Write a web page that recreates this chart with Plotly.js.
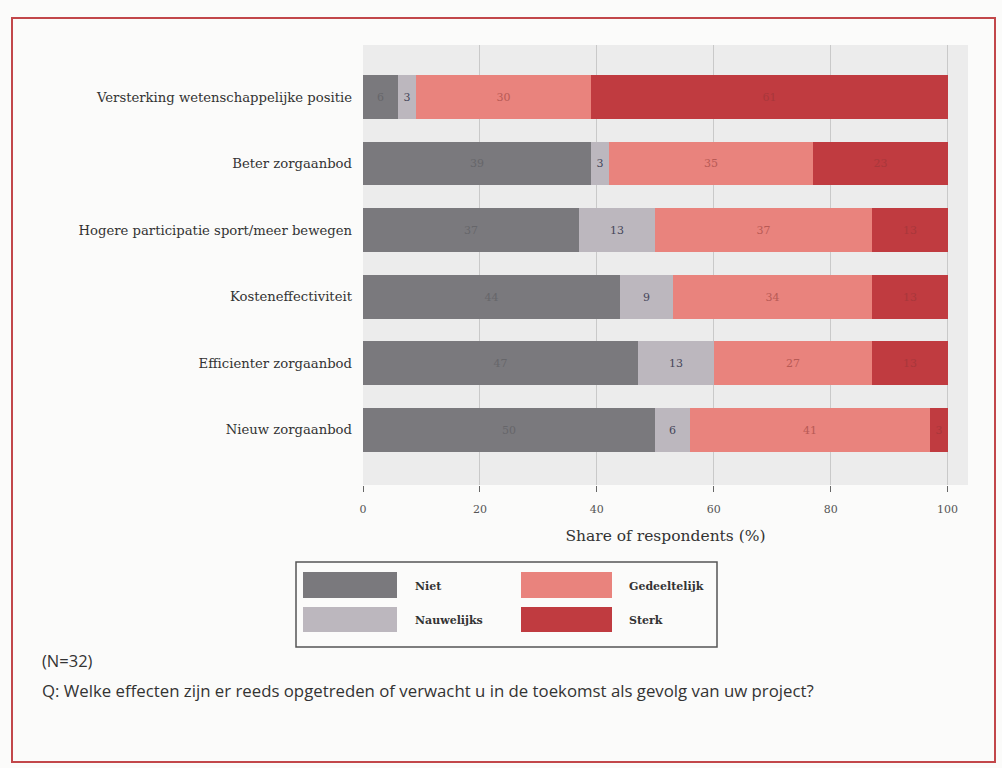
<!DOCTYPE html>
<html>
<head>
<meta charset="utf-8">
<script src="https://cdn.plot.ly/plotly-3.0.1.min.js"></script>
<style>
  html, body { margin: 0; padding: 0; background: #fbfbfa; }
  #chart { width: 1002px; height: 768px; }
</style>
</head>
<body>
<div id="chart"></div>
<script>
// ---- data ----
const categories = [
  "Versterking wetenschappelijke positie",
  "Beter zorgaanbod",
  "Hogere participatie sport/meer bewegen",
  "Kosteneffectiviteit",
  "Efficienter zorgaanbod",
  "Nieuw zorgaanbod"
];
const niet         = [6, 39, 37, 44, 47, 50];
const nauwelijks   = [3, 3, 13, 9, 13, 6];
const gedeeltelijk = [30, 35, 37, 34, 27, 41];
const sterk        = [61, 23, 13, 13, 13, 3];
const seriesNames  = ["Niet", "Nauwelijks", "Gedeeltelijk", "Sterk"];
const xTickVals    = [0, 20, 40, 60, 80, 100];
const xTickText    = ["0", "20", "40", "60", "80", "100"];

// ---- styles ----
const colors    = ["#7a797d", "#bcb7be", "#e9837d", "#c03b40"];
const textCols  = ["#66666a", "#46465a", "#b85a55", "#a8373b"];
const serif = "DejaVu Serif, Liberation Serif, serif";
const sans = "Open Sans, Lato, sans-serif";

const seriesValues = [niet, nauwelijks, gedeeltelijk, sterk];
const traces = seriesValues.map((vals, i) => ({
  type: "bar",
  orientation: "h",
  name: seriesNames[i],
  y: categories,
  x: vals,
  text: vals.map(String),
  textposition: "inside",
  insidetextanchor: "middle",
  constraintext: "none",
  textfont: { family: serif, size: 11, color: textCols[i] },
  marker: { color: colors[i], line: { width: 0 } },
  width: 0.66,
  showlegend: false,
  hoverinfo: "x+name"
}));

// plot area in pixels
const L = 363, R = 968, T = 45, B = 485;
const W = R - L, H = B - T;
const px = x => (x - L) / W;
const py = y => (B - y) / H;

const shapes = [
  // outer red frame
  { type: "rect", xref: "paper", yref: "paper", x0: px(12), x1: px(995), y0: py(18), y1: py(762),
    line: { color: "#c2474a", width: 2 }, fillcolor: "rgba(0,0,0,0)", layer: "below" },
  // legend box
  { type: "rect", xref: "paper", yref: "paper", x0: px(296), x1: px(717), y0: py(562), y1: py(647),
    line: { color: "#555555", width: 1.5 }, fillcolor: "rgba(0,0,0,0)" }
];
const annotations = [];
// custom legend: 2 columns x 2 rows
const legCols = [{ sx0: 303, sx1: 397, tx: 413 }, { sx0: 521, sx1: 612, tx: 627 }];
const legRows = [{ y0: 572, y1: 598 }, { y0: 607, y1: 632 }];
const legOrder = [[0, 0], [0, 1], [1, 0], [1, 1]]; // [col,row] for Niet, Nauwelijks, Gedeeltelijk, Sterk
seriesNames.forEach((nm, i) => {
  const c = legCols[legOrder[i][0]], r = legRows[legOrder[i][1]];
  shapes.push({ type: "rect", xref: "paper", yref: "paper",
    x0: px(c.sx0), x1: px(c.sx1), y0: py(r.y0), y1: py(r.y1),
    line: { width: 0 }, fillcolor: colors[i] });
  annotations.push({ xref: "paper", yref: "paper", x: px(c.tx), y: py((r.y0 + r.y1) / 2 + 1),
    xanchor: "left", yanchor: "middle", showarrow: false, text: nm,
    font: { family: serif, size: 11, color: "#333", weight: 600 } });
});
annotations.push({ xref: "paper", yref: "paper", x: px(40), y: py(660), xanchor: "left", yanchor: "middle",
  showarrow: false, text: "(N=32)", font: { family: sans, size: 16.5, color: "#333" } });
annotations.push({ xref: "paper", yref: "paper", x: px(40), y: py(690), xanchor: "left", yanchor: "middle",
  showarrow: false, text: "Q: Welke effecten zijn er reeds opgetreden of verwacht u in de toekomst als gevolg van uw project?",
  font: { family: sans, size: 16.8, color: "#333" } });

const layout = {
  width: 1002, height: 768,
  margin: { l: L, r: 1002 - R, t: T, b: 768 - B, pad: 0 },
  paper_bgcolor: "#fbfbfa",
  plot_bgcolor: "#ececec",
  barmode: "stack",
  bargap: 0,
  xaxis: {
    range: [0, 103.5],
    tickvals: xTickVals, ticktext: xTickText,
    showgrid: true, gridcolor: "#c9c9c9", gridwidth: 1,
    zeroline: false, showline: false,
    ticks: "outside", ticklen: 6, tickcolor: "#666", tickwidth: 1,
    ticklabelstandoff: 8,
    tickfont: { family: serif, size: 11, color: "#555" },
    title: { text: "Share of respondents (%)", standoff: 14,
      font: { family: serif, size: 15.5, color: "#333" } }
  },
  yaxis: {
    type: "category",
    range: [5.83, -0.78],
    showgrid: false, zeroline: false, showline: false,
    ticks: "", ticklabelstandoff: 10,
    tickfont: { family: serif, size: 13.2, color: "#333" }
  },
  shapes: shapes,
  annotations: annotations
};

Plotly.newPlot("chart", traces, layout, { displayModeBar: false, responsive: false });
</script>
</body>
</html>
